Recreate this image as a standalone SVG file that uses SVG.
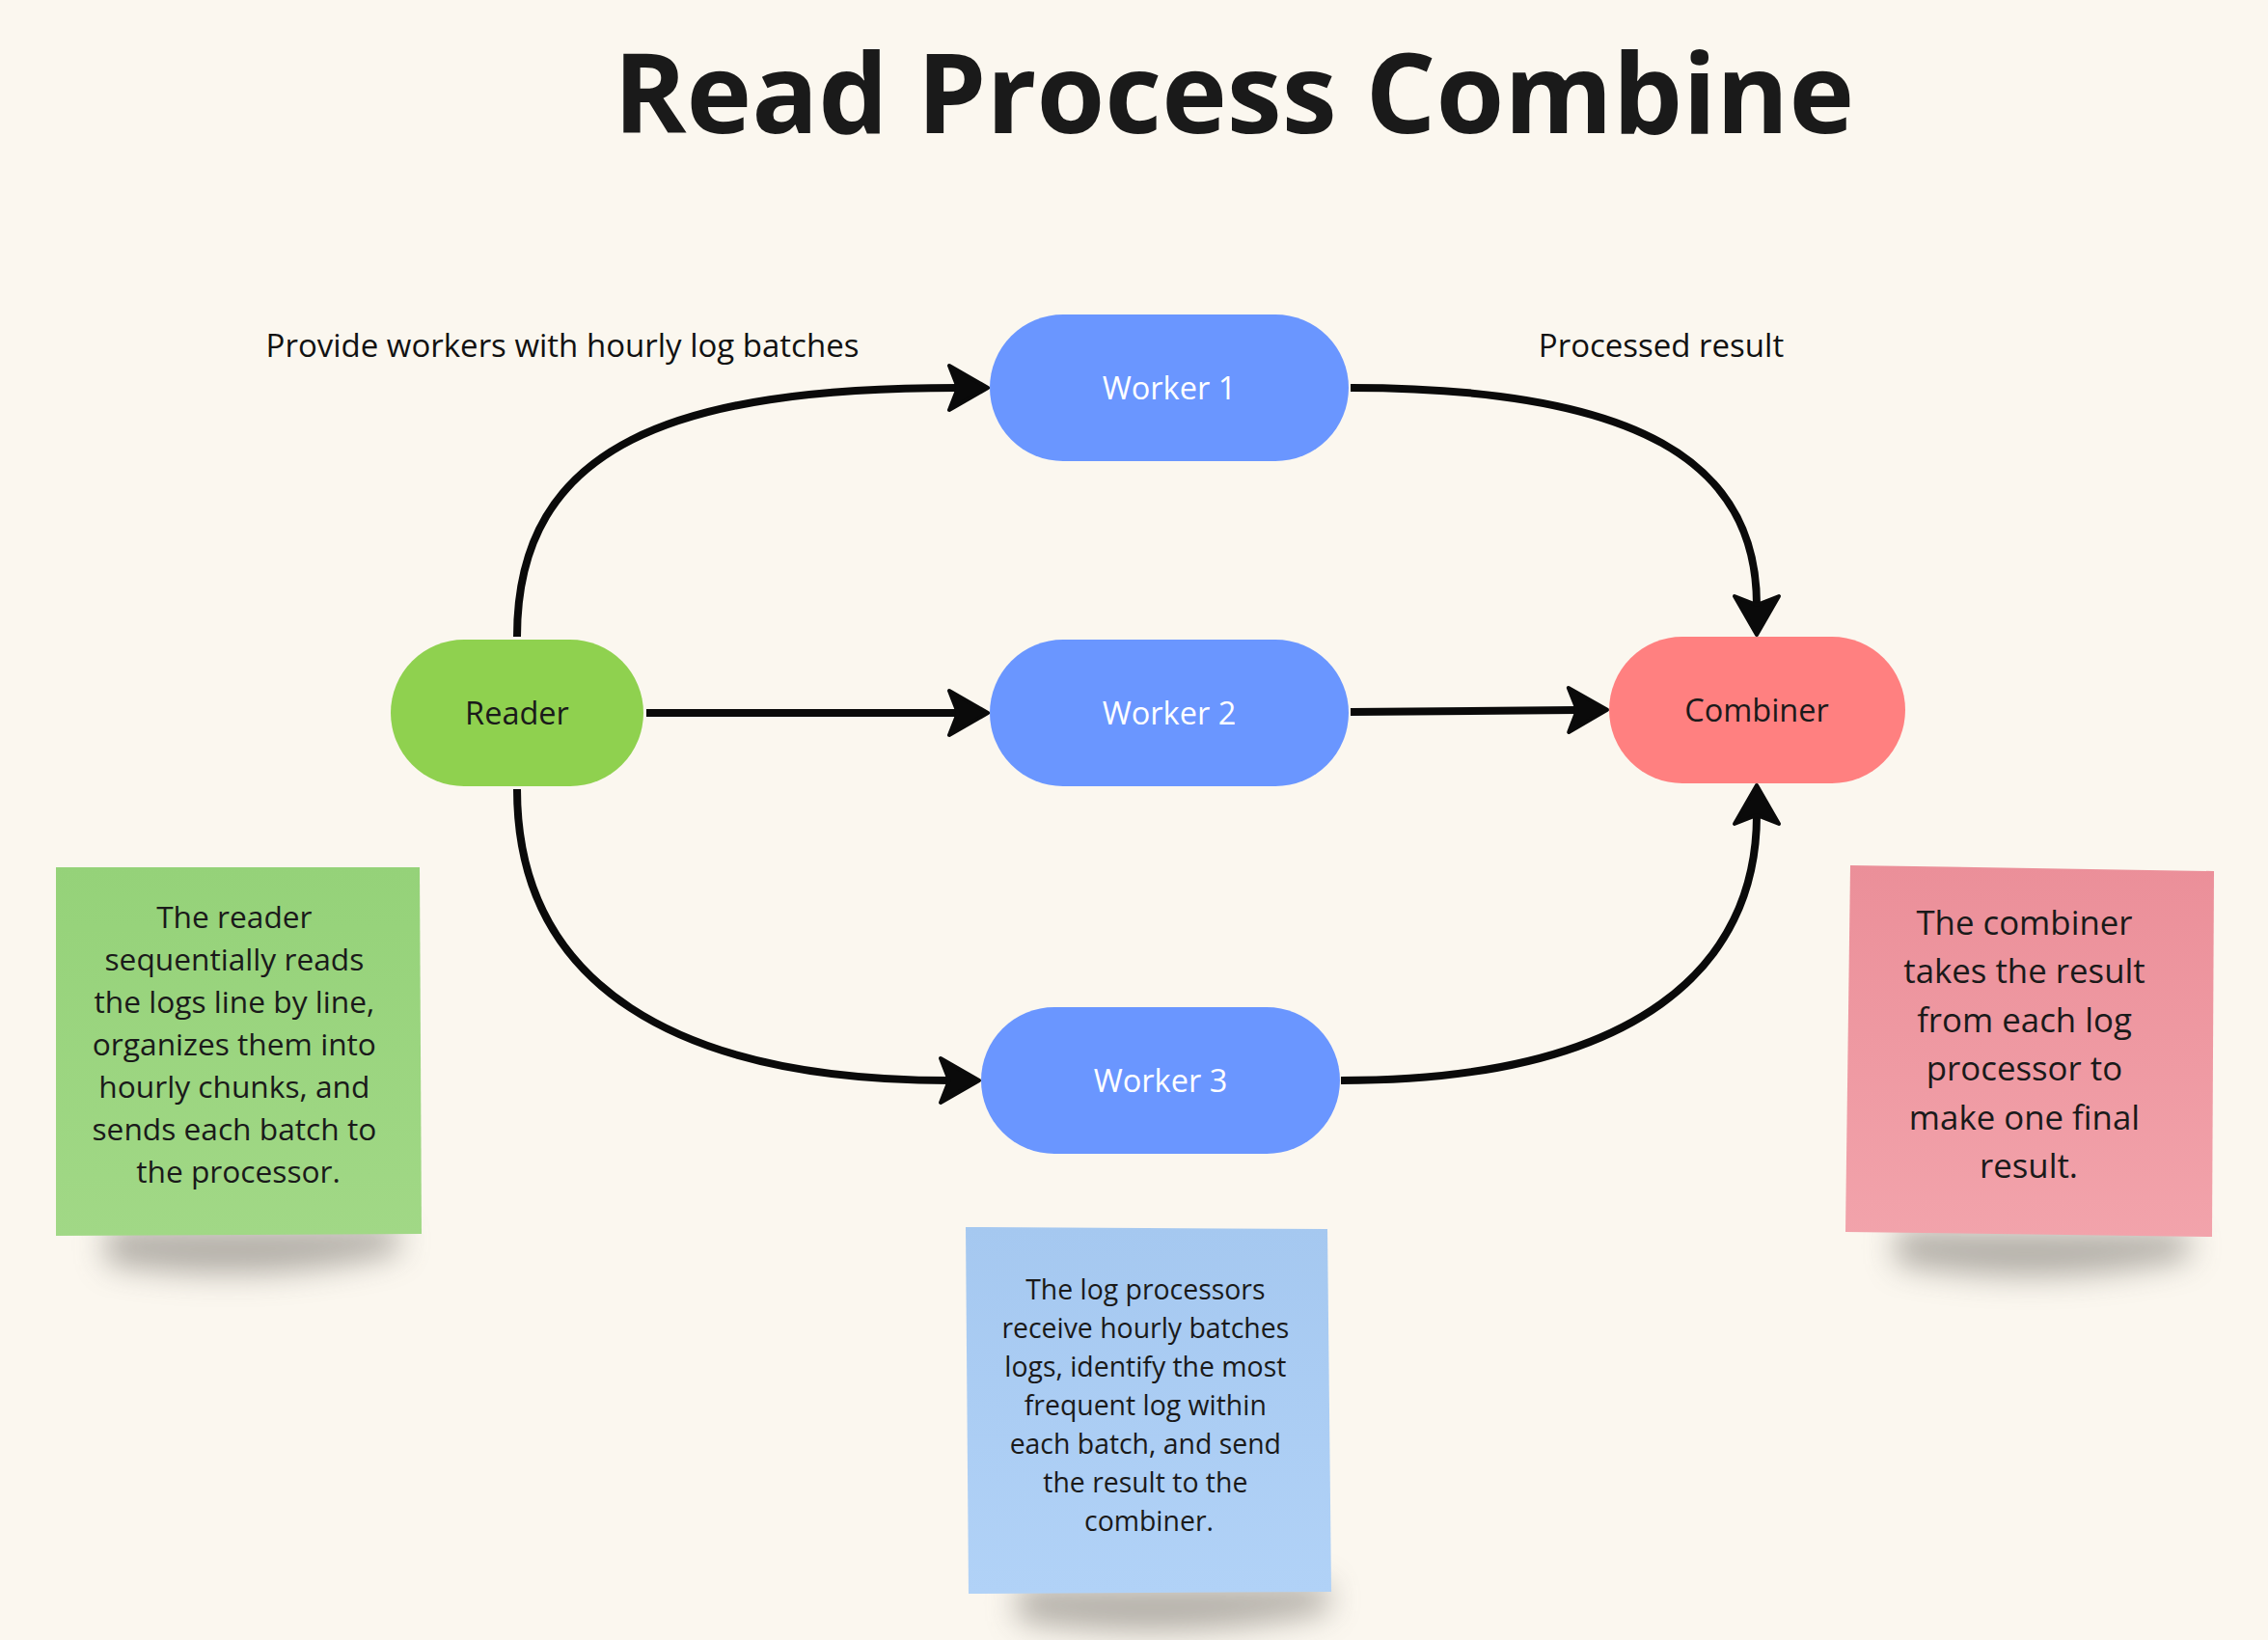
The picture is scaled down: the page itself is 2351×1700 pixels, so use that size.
<svg xmlns="http://www.w3.org/2000/svg" width="2351" height="1700" viewBox="0 0 2351 1700">
<defs>
<style>
.title{font-family:"Open Sans","Noto Sans","Liberation Sans",sans-serif;font-weight:700;font-size:114.5px;fill:#1a1a1a}
.lbl{font-family:"Open Sans","Noto Sans","Liberation Sans",sans-serif;font-size:33px;fill:#111111}
.nodeW{font-family:"Open Sans","Noto Sans","Liberation Sans",sans-serif;font-size:32.5px;fill:#ffffff}
.nodeD{font-family:"Open Sans","Noto Sans","Liberation Sans",sans-serif;font-size:32.5px;fill:#1a1a1a}
.note{font-family:"Open Sans","Noto Sans","Liberation Sans",sans-serif;fill:#1a1a1a}
.conn{fill:none;stroke:#0a0a0a;stroke-width:8}
</style>
<marker id="ah" markerUnits="userSpaceOnUse" orient="auto" refX="0" refY="0" markerWidth="90" markerHeight="70" viewBox="-45 -35 90 70" overflow="visible">
<path d="M31,0 L-9,-23 L0,0 L-9,23 Z" fill="#0a0a0a" stroke="#0a0a0a" stroke-width="4" stroke-linejoin="round"/>
</marker>
<linearGradient id="gG" x1="0" y1="0" x2="0" y2="1"><stop offset="0" stop-color="#95d279"/><stop offset="1" stop-color="#a1d886"/></linearGradient>
<linearGradient id="gB" x1="0" y1="0" x2="0" y2="1"><stop offset="0" stop-color="#a5c8f0"/><stop offset="1" stop-color="#b1d2f7"/></linearGradient>
<linearGradient id="gR" x1="0" y1="0" x2="0" y2="1"><stop offset="0" stop-color="#eb8f99"/><stop offset="1" stop-color="#f2a3ab"/></linearGradient>
<filter id="sh" x="-40%" y="-150%" width="180%" height="400%"><feGaussianBlur stdDeviation="16"/></filter>
</defs>
<rect width="2351" height="1700" fill="#fbf7ef"/>
<text class="title" x="1279" y="138" text-anchor="middle">Read Process Combine</text>
<text class="lbl" x="583" y="370" text-anchor="middle">Provide workers with hourly log batches</text>
<text class="lbl" x="1722" y="370" text-anchor="middle">Processed result</text>

<g id="connectors">
<path class="conn" marker-end="url(#ah)" d="M536,660 C536,460 700,402 993,402"/>
<path class="conn" marker-end="url(#ah)" d="M670,739 L993,739"/>
<path class="conn" marker-end="url(#ah)" d="M536,818 C536,1020 700,1120 984,1120"/>
<path class="conn" marker-end="url(#ah)" d="M1400,402 C1700,402 1821,480 1821,627"/>
<path class="conn" marker-end="url(#ah)" d="M1400,738 L1635,736"/>
<path class="conn" marker-end="url(#ah)" d="M1390,1120 C1700,1120 1821,1000 1821,845"/>
</g>

<g id="reader">
<rect x="405" y="663" width="262" height="152" rx="76" ry="76" fill="#8fd14f"/>
<text class="nodeD" x="536" y="751" text-anchor="middle">Reader</text>
</g>
<g id="worker1">
<rect x="1026" y="326" width="372" height="152" rx="76" ry="76" fill="#6a96ff"/>
<text class="nodeW" x="1212" y="414" text-anchor="middle">Worker 1</text>
</g>
<g id="worker2">
<rect x="1026" y="663" width="372" height="152" rx="76" ry="76" fill="#6a96ff"/>
<text class="nodeW" x="1212" y="751" text-anchor="middle">Worker 2</text>
</g>
<g id="worker3">
<rect x="1017" y="1044" width="372" height="152" rx="76" ry="76" fill="#6a96ff"/>
<text class="nodeW" x="1203" y="1132" text-anchor="middle">Worker 3</text>
</g>
<g id="combiner">
<rect x="1668" y="660" width="307" height="152" rx="76" ry="76" fill="#ff8080"/>
<text class="nodeD" x="1821" y="748" text-anchor="middle">Combiner</text>
</g>

<g id="note-reader">
<path d="M110,1272 L412,1270 L414,1298 Q270,1335 110,1310 Z" fill="#6a6660" opacity="0.5" filter="url(#sh)"/>
<polygon points="58,899 435,899 437,1279 58,1281" fill="url(#gG)"/>
<text class="note" font-size="31.7" text-anchor="middle">
<tspan x="247" y="962">The reader</tspan>
<tspan x="247" y="1006">sequentially reads</tspan>
<tspan x="247" y="1050">the logs line by line,</tspan>
<tspan x="247" y="1094">organizes them into</tspan>
<tspan x="247" y="1138">hourly chunks, and</tspan>
<tspan x="247" y="1182">sends each batch to</tspan>
<tspan x="247" y="1226">the processor.</tspan>
</text>
</g>
<g id="note-workers">
<path d="M1055,1644 L1376,1642 L1378,1670 Q1220,1705 1055,1680 Z" fill="#6a6660" opacity="0.5" filter="url(#sh)"/>
<polygon points="1001,1272 1376,1274 1380,1650 1004,1652" fill="url(#gB)"/>
<text class="note" font-size="28.4" text-anchor="middle">
<tspan x="1191" y="1347">The log processors</tspan>
<tspan x="1191" y="1387">receive hourly batches</tspan>
<tspan x="1191" y="1427">logs, identify the most</tspan>
<tspan x="1191" y="1467">frequent log within</tspan>
<tspan x="1191" y="1507">each batch, and send</tspan>
<tspan x="1191" y="1547">the result to the</tspan>
<tspan x="1191" y="1587">combiner.</tspan>
</text>
</g>
<g id="note-combiner">
<path d="M1965,1274 L2268,1276 L2270,1304 Q2120,1338 1965,1310 Z" fill="#6a6660" opacity="0.5" filter="url(#sh)"/>
<polygon points="1918,897 2295,903 2293,1282 1913,1277" fill="url(#gR)"/>
<text class="note" font-size="34.8" text-anchor="middle">
<tspan x="2103" y="969">The combiner</tspan>
<tspan x="2103" y="1019">takes the result</tspan>
<tspan x="2103" y="1070">from each log</tspan>
<tspan x="2103" y="1120">processor to</tspan>
<tspan x="2103" y="1171">make one final</tspan>
<tspan x="2103" y="1221">result.</tspan>
</text>
</g>
</svg>
